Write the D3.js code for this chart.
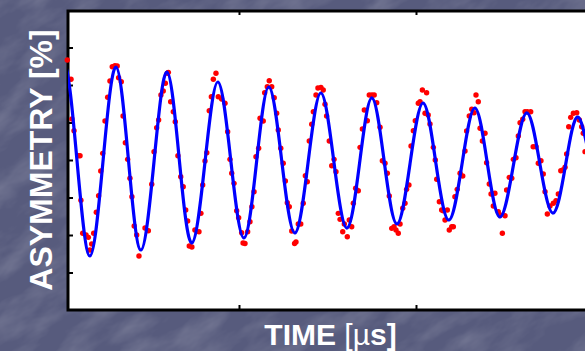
<!DOCTYPE html>
<html>
<head>
<meta charset="utf-8">
<script src="https://cdn.jsdelivr.net/npm/d3@7/dist/d3.min.js"></script>
<style>
  html, body { margin: 0; padding: 0; background: #585c7e; overflow: hidden; }
  svg { display: block; }
</style>
</head>
<body>
<script>
// ---- Data (time in microseconds, asymmetry in %) ----
const xLabel = "TIME";
const yLabel = "ASYMMETRY";
const xTicks = [1, 2, 3];
const yTicks = [-15, -10, -5, 0, 5, 10, 15];

// measured points [time (µs), asymmetry (%)]
const measured = [
[0.030,13.33],[0.051,10.76],[0.056,5.47],[0.068,3.91],[0.092,0.57],[0.102,0.57],[0.107,-5.37],[0.117,-9.77],[0.136,-10.00],[0.149,-10.31],
[0.158,-12.00],[0.168,-11.20],[0.179,-9.77],[0.194,-6.97],[0.207,-4.76],[0.219,-1.47],[0.230,0.89],[0.243,5.20],[0.258,8.36],[0.271,10.53],
[0.284,12.44],[0.299,12.57],[0.312,12.53],[0.320,10.97],[0.335,10.44],[0.345,5.87],[0.358,2.31],[0.371,0.09],[0.384,-2.44],[0.395,-4.89],
[0.408,-8.80],[0.422,-10.00],[0.435,-12.80],[0.469,-9.07],[0.488,-9.43],[0.507,-3.24],[0.520,1.11],[0.535,4.31],[0.546,5.33],[0.559,8.67],
[0.572,9.20],[0.584,10.23],[0.595,11.56],[0.601,11.69],[0.614,7.77],[0.629,6.44],[0.640,5.11],[0.655,0.57],[0.671,-2.23],[0.685,-3.56],
[0.699,-6.67],[0.710,-8.13],[0.719,-11.47],[0.734,-11.60],[0.751,-9.33],[0.774,-9.56],[0.785,-7.11],[0.795,-3.33],[0.808,-0.13],[0.818,0.97],
[0.832,6.57],[0.844,8.44],[0.855,10.76],[0.870,11.56],[0.883,8.44],[0.902,8.13],[0.921,7.56],[0.936,3.77],[0.949,0.09],[0.959,-1.77],
[0.972,-3.11],[0.987,-6.76],[0.998,-7.69],[1.015,-9.69],[1.023,-11.07],[1.034,-11.13],[1.049,-9.56],[1.062,-8.23],[1.073,-6.23],[1.085,-4.23],
[1.096,0.44],[1.111,1.56],[1.119,5.56],[1.137,5.20],[1.145,8.97],[1.160,9.77],[1.171,10.57],[1.185,9.77],[1.199,8.31],[1.213,6.23],
[1.222,4.00],[1.236,1.56],[1.250,-0.44],[1.262,-2.80],[1.273,-5.69],[1.284,-6.23],[1.298,-9.47],[1.314,-11.13],[1.322,-10.93],[1.335,-8.53],
[1.349,-8.53],[1.363,-5.77],[1.375,-2.09],[1.386,-2.89],[1.397,2.53],[1.411,4.76],[1.420,6.44],[1.435,8.67],[1.446,9.60],[1.463,9.69],
[1.476,9.33],[1.486,7.43],[1.495,5.87],[1.510,2.53],[1.524,-0.76],[1.537,0.09],[1.548,-1.56],[1.561,-7.11],[1.571,-7.91],[1.586,-9.56],
[1.595,-8.53],[1.612,-10.23],[1.623,-8.00],[1.637,-8.89],[1.646,-5.77],[1.659,-3.77],[1.674,-4.09],[1.684,1.69],[1.697,4.13],[1.708,6.67],
[1.725,5.24],[1.736,8.67],[1.751,8.67],[1.764,8.67],[1.778,7.64],[1.797,4.36],[1.810,-0.09],[1.825,-0.44],[1.838,-1.77],[1.849,-4.80],
[1.863,-9.11],[1.876,-8.89],[1.887,-9.33],[1.900,-9.77],[1.910,-8.53],[1.925,-6.44],[1.938,-5.77],[1.947,-3.91],[1.960,-3.33],[1.972,1.87],
[1.985,3.91],[1.996,5.24],[2.013,7.56],[2.023,7.77],[2.036,9.33],[2.051,6.23],[2.060,8.97],[2.069,6.00],[2.079,4.80],[2.098,1.69],
[2.109,0.00],[2.117,-2.57],[2.132,-5.56],[2.145,-6.67],[2.154,-6.76],[2.164,-8.00],[2.177,-6.67],[2.188,-9.33],[2.202,-8.89],[2.211,-8.89],
[2.220,-4.89],[2.233,-3.91],[2.249,-1.77],[2.264,-2.13],[2.277,1.20],[2.286,3.87],[2.301,5.87],[2.315,6.76],[2.328,6.31],[2.339,8.67],
[2.352,7.77],[2.362,4.23],[2.375,2.53],[2.390,3.56],[2.399,-0.36],[2.414,-3.20],[2.424,-4.53],[2.437,-6.13],[2.446,-4.44],[2.465,-6.89],
[2.475,-7.33],[2.488,-9.77],[2.503,-7.43],[2.512,-4.00],[2.527,-2.31],[2.541,-2.44],[2.550,0.09],[2.565,0.31],[2.578,3.20],[2.588,4.97],
[2.603,5.43],[2.616,6.44],[2.629,6.44],[2.648,6.44],[2.662,1.77],[2.678,1.77],[2.691,-0.44],[2.706,-0.09],[2.719,-1.87],[2.729,-4.23],
[2.742,-7.20],[2.757,-6.13],[2.776,-5.77],[2.791,-5.43],[2.804,-4.53],[2.818,-1.43],[2.829,-1.33],[2.842,-0.97],[2.851,0.80],[2.863,4.44],
[2.874,5.69],[2.889,6.23],[2.908,6.31],[2.923,5.33],[2.936,4.44],[2.945,3.56],[2.955,1.11]
];

// fitted curve key points [time (µs), asymmetry (%)] (extrema and crossings)
const fitCurve = [
[-0.133,-13.4],[-0.059,-0.1],[0.011,12.8],[0.085,-0.13],[0.158,-12.8],[0.232,-0.13],[0.305,12.4],[0.376,-0.13],[0.446,-12.0],
[0.520,-0.2],[0.593,11.73],[0.664,-0.27],[0.734,-11.07],[0.808,-0.27],[0.881,10.4],[0.955,-0.33],[1.028,-10.4],
[1.099,-0.33],[1.169,9.73],[1.243,-0.4],[1.316,-9.73],[1.390,-0.4],[1.463,8.93],[1.537,-0.4],[1.610,-9.07],
[1.681,-0.47],[1.751,8.27],[1.822,-0.47],[1.893,-8.53],[1.966,-0.53],[2.040,7.6],[2.113,-0.53],[2.186,-8.0],
[2.260,-0.53],[2.333,6.93],[2.404,-0.6],[2.475,-7.6],[2.551,-0.6],[2.627,6.27],[2.701,-0.67],[2.774,-7.07],
[2.845,-0.67],[2.915,5.73],[2.989,-0.67],[3.062,-6.67]
];

// ---- Drawing ----
const W = 585, H = 351;
const svg = d3.select("body").append("svg").attr("width", W).attr("height", H);

const defs = svg.append("defs");
const filt = defs.append("filter").attr("id", "tex").attr("filterUnits", "userSpaceOnUse")
    .attr("x", -400).attr("y", -500).attr("width", W + 800).attr("height", H + 1000);
filt.append("feTurbulence").attr("type", "fractalNoise").attr("baseFrequency", "0.02 0.045")
    .attr("numOctaves", 4).attr("seed", 11).attr("result", "n");
filt.append("feColorMatrix").attr("type", "matrix")
    .attr("values", "0 0 0 0 1  0 0 0 0 1  0 0 0 0 1  0.32 0 0 0 -0.13");

svg.append("rect").attr("width", W).attr("height", H).attr("fill", "#575b7d");
svg.append("g").attr("transform", `rotate(-32 ${W / 2} ${H / 2})`)
   .append("rect").attr("x", -400).attr("y", -500).attr("width", W + 800).attr("height", H + 1000)
   .attr("filter", "url(#tex)");

const x = d3.scaleLinear().domain([0.034, 3.0]).range([68, 593]);
const y = d3.scaleLinear().domain([-20, 20]).range([310, 10]);

const x0 = x.range()[0], x1 = x.range()[1], yT = y.range()[1], yB = y.range()[0];

defs.append("clipPath").attr("id", "plotClip")
  .append("rect").attr("x", x0).attr("y", yT).attr("width", x1 - x0).attr("height", yB - yT);

// plot background
svg.append("rect").attr("x", x0).attr("y", yT).attr("width", x1 - x0).attr("height", yB - yT)
   .attr("fill", "#ffffff");

// ticks (inward)
const tickStyle = g => {
  g.select(".domain").remove();
  g.selectAll(".tick line").attr("stroke", "#000").attr("stroke-width", 2);
};
svg.append("g").attr("transform", `translate(${x0},0)`)
   .call(d3.axisRight(y).tickValues(yTicks).tickSize(5).tickFormat(""))
   .call(tickStyle);
svg.append("g").attr("transform", `translate(0,${yB})`)
   .call(d3.axisTop(x).tickValues(xTicks).tickSize(5).tickFormat(""))
   .call(tickStyle);
svg.append("g").attr("transform", `translate(0,${yT})`)
   .call(d3.axisBottom(x).tickValues(xTicks).tickSize(5).tickFormat(""))
   .call(tickStyle);

// frame
svg.append("rect").attr("x", x0).attr("y", yT + 1).attr("width", x1 - x0).attr("height", yB - yT - 1)
   .attr("fill", "none").attr("stroke", "#000").attr("stroke-width", 3);

// dots
svg.append("g").selectAll("circle").data(measured).join("circle")
   .attr("cx", d => x(d[0])).attr("cy", d => y(d[1])).attr("r", 2.7).attr("fill", "#ff0000");

// fit line
const line = d3.line().x(d => x(d[0])).y(d => y(d[1])).curve(d3.curveNatural);
svg.append("path").datum(fitCurve).attr("clip-path", "url(#plotClip)")
   .attr("d", line).attr("fill", "none").attr("stroke", "#0000ff").attr("stroke-width", 3.2)
   .attr("stroke-linejoin", "round");

// labels
const font = "'Liberation Sans', Arial, Helvetica, sans-serif";
const yl = svg.append("text").attr("transform", `translate(52,${(yT + yB) / 2}) rotate(-90)`)
   .attr("text-anchor", "middle").attr("font-family", font).attr("font-size", 32)
   .attr("fill", "#ffffff").attr("font-weight", "bold");
yl.append("tspan").text(yLabel + " [%]");

const xl = svg.append("text").attr("x", (x0 + x1) / 2).attr("y", 345)
   .attr("text-anchor", "middle").attr("font-family", font).attr("font-size", 30)
   .attr("fill", "#ffffff").attr("font-weight", "bold");
xl.append("tspan").text(xLabel + " ");
xl.append("tspan").attr("font-weight", "normal").text("[µ");
xl.append("tspan").text("s]");
</script>
</body>
</html>
